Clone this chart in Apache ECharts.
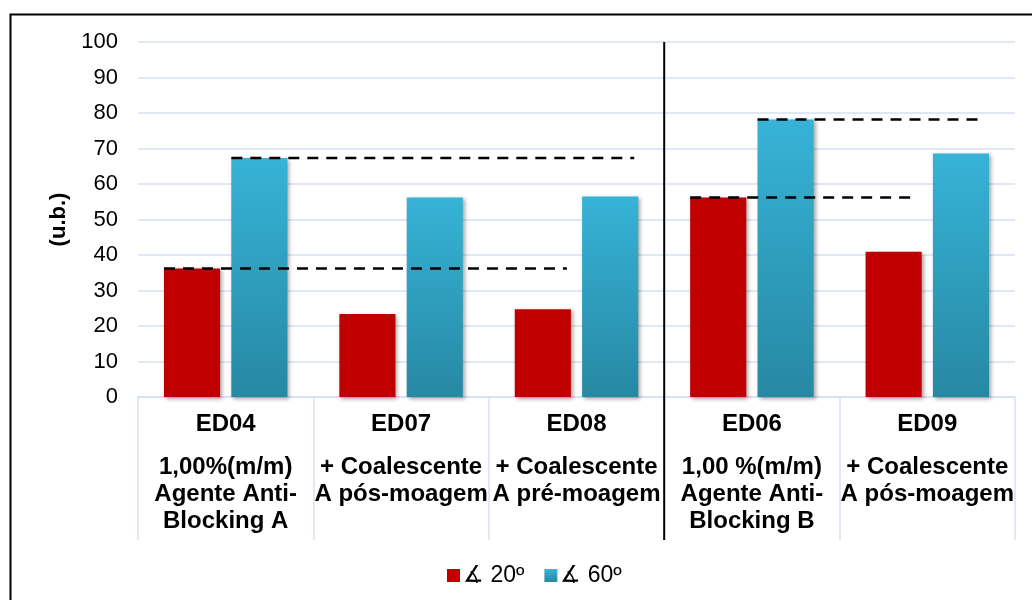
<!DOCTYPE html>
<html>
<head>
<meta charset="utf-8">
<style>
  html, body { margin: 0; padding: 0; background: #fff; }
  #chart { width: 1032px; height: 600px; }
</style>
<script src="https://cdn.jsdelivr.net/npm/echarts@6/dist/echarts.min.js"></script>
</head>
<body>
<div id="chart"></div>
<script>
// Sample codes and the treatment written under each one
const codes = ['ED04', 'ED07', 'ED08', 'ED06', 'ED09'];
const descriptions = [
  ['1,00%(m/m)', 'Agente Anti-', 'Blocking A'],
  ['+ Coalescente', 'A pós-moagem'],
  ['+ Coalescente', 'A pré-moagem'],
  ['1,00 %(m/m)', 'Agente Anti-', 'Blocking B'],
  ['+ Coalescente', 'A pós-moagem']
];

// Gloss readings (u.b.)
const gloss20 = [36.2, 23.4, 24.7, 56.2, 40.9];
const gloss60 = [67.3, 56.2, 56.5, 78.2, 68.6];
const seriesNames = ['∡ 20º', '∡ 60º'];

// Reference levels: each reference sample's value carried across its group
const refFrom = ['ED04', 'ED04', 'ED06', 'ED06'];
const refTo = ['ED08', 'ED08', 'ED09', 'ED09'];
const refSeries = [0, 1, 0, 1];

// Group divider sits before this sample
const dividerBefore = ['ED06'];

const yTicks = { min: 0, max: 100, interval: 10 };

const BAR_RATIO = 0.32;
const GAP_RATIO = 0.2;
const TICK_DROP = 143;
const FONT = '"Liberation Sans", Arial, sans-serif';
const GRID_COLOR = '#D5E1F1';

const allValues = [gloss20, gloss60];
const refData = refFrom.map((c, k) => {
  const i0 = codes.indexOf(c);
  return [i0, codes.indexOf(refTo[k]), allValues[refSeries[k]][i0], refSeries[k]];
});
const dividerData = dividerBefore.map(c => [codes.indexOf(c), yTicks.max]);

const blueFill = new echarts.graphic.LinearGradient(0, 0, 0, 1, [
  { offset: 0, color: '#36B3D7' },
  { offset: 1, color: '#2788A3' }
]);

const chart = echarts.init(document.getElementById('chart'), null, { renderer: 'canvas' });

chart.setOption({
  animation: false,
  textStyle: { fontFamily: FONT },
  graphic: [{
    type: 'rect',
    left: 8, top: 12,
    shape: { width: 1200, height: 800 },
    style: { fill: 'none', stroke: '#000', lineWidth: 2 },
    silent: true
  }],
  grid: { left: 138, right: 17, top: 42, bottom: 203 },
  legend: {
    top: 559,
    left: 442,
    itemWidth: 13,
    itemHeight: 13,
    itemGap: 20,
    icon: 'rect',
    textStyle: { fontSize: 23, color: '#000', fontFamily: FONT, padding: [0, 0, 0, -2] },
    data: seriesNames
  },
  xAxis: {
    type: 'category',
    data: codes,
    axisLine: { show: true, lineStyle: { color: GRID_COLOR, width: 1.5 } },
    axisTick: {
      show: true,
      interval: 0,
      length: TICK_DROP,
      lineStyle: { color: GRID_COLOR, width: 1.5 }
    },
    axisLabel: {
      interval: 0,
      margin: 13,
      formatter: (value) => {
        const d = descriptions[codes.indexOf(value)];
        return '{a|' + value + '}\n{g| }\n' + d.map(t => '{b|' + t + '}').join('\n');
      },
      rich: {
        a: { fontSize: 24, fontWeight: 'bold', color: '#000', lineHeight: 28, fontFamily: FONT },
        g: { fontSize: 10, lineHeight: 16 },
        b: { fontSize: 24, fontWeight: 'bold', color: '#000', lineHeight: 27, fontFamily: FONT }
      }
    }
  },
  yAxis: {
    type: 'value',
    min: yTicks.min,
    max: yTicks.max,
    interval: yTicks.interval,
    name: '(u.b.)',
    nameLocation: 'middle',
    nameRotate: 90,
    nameGap: 68,
    nameTextStyle: { fontSize: 22, fontWeight: 'bold', color: '#000', fontFamily: FONT },
    axisLine: { show: false },
    axisTick: { show: false },
    axisLabel: { fontSize: 22, color: '#000', margin: 20, fontFamily: FONT },
    splitLine: { lineStyle: { color: GRID_COLOR, width: 1.5 } }
  },
  series: [
    {
      name: seriesNames[0],
      type: 'bar',
      data: gloss20,
      barWidth: (BAR_RATIO * 100) + '%',
      barGap: (GAP_RATIO * 100) + '%',
      itemStyle: {
        color: '#C00000',
        shadowColor: 'rgba(0,0,0,0.35)',
        shadowBlur: 4,
        shadowOffsetX: 2,
        shadowOffsetY: 2
      }
    },
    {
      name: seriesNames[1],
      type: 'bar',
      data: gloss60,
      barWidth: (BAR_RATIO * 100) + '%',
      barGap: (GAP_RATIO * 100) + '%',
      itemStyle: {
        color: blueFill,
        shadowColor: 'rgba(0,0,0,0.35)',
        shadowBlur: 4,
        shadowOffsetX: 2,
        shadowOffsetY: 2
      }
    },
    {
      // dashed reference levels from the first bar of a group to its last sample
      type: 'custom',
      clip: false,
      silent: true,
      encode: { x: [0, 1], y: 2 },
      data: refData,
      z: 5,
      renderItem: (params, api) => {
        const i0 = api.value(0), i1 = api.value(1), v = api.value(2), s = api.value(3);
        const band = api.size([1, 0])[0];
        const bw = band * BAR_RATIO;
        const gap = bw * GAP_RATIO;
        const off = (s === 0 ? -1 : 1) * (gap / 2 + bw / 2);
        const p0 = api.coord([i0, v]);
        const p1 = api.coord([i1, v]);
        return {
          type: 'line',
          shape: { x1: p0[0] + off - bw / 2, y1: p0[1], x2: p1[0] + off + bw / 2 - 4, y2: p1[1] },
          style: { stroke: '#000', lineWidth: 2.5, lineDash: [11, 8] }
        };
      }
    },
    {
      // black divider between the two additive groups
      type: 'custom',
      clip: false,
      silent: true,
      encode: { x: 0, y: 1 },
      data: dividerData,
      z: 6,
      renderItem: (params, api) => {
        const band = api.size([1, 0])[0];
        const top = api.coord([api.value(0), api.value(1)]);
        const base = api.coord([api.value(0), yTicks.min]);
        const x = top[0] - band / 2;
        return {
          type: 'line',
          shape: { x1: x, y1: top[1], x2: x, y2: base[1] + TICK_DROP },
          style: { stroke: '#000', lineWidth: 2 }
        };
      }
    }
  ]
});
</script>
</body>
</html>
